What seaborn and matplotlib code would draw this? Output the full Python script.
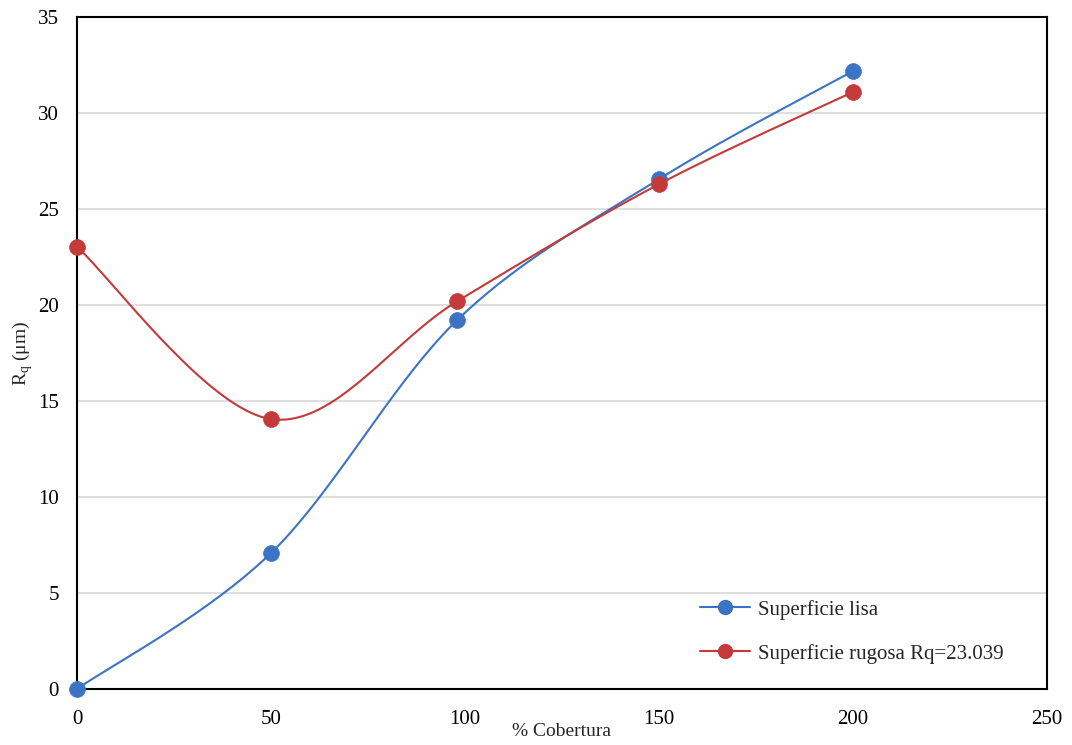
import numpy as np
import pandas as pd
import matplotlib
matplotlib.use("Agg")
import matplotlib.pyplot as plt
import seaborn as sns

cobertura_lisa = [0, 50, 98, 150, 200]
rq_lisa = [0.0, 7.08, 19.22, 26.56, 32.19]
cobertura_rugosa = [0, 50, 98, 150, 200]
rq_rugosa = [23.039, 14.06, 20.2, 26.3, 31.1]
labels = ["Superficie lisa", "Superficie rugosa Rq=23.039"]
colors = ["#3b74c2", "#c43a3a"]

sns.set_theme(style="white")
plt.rcParams["font.family"] = ["Liberation Serif", "DejaVu Serif"]

fig = plt.figure(figsize=(10.72, 7.45), dpi=100)
ax = fig.add_axes([0.0718, 0.0752, 0.9049, 0.9018])


def smooth(xs, ys, n=40):
    # Catmull-Rom style smoothing (like spreadsheet "smoothed line") for drawing only
    xs = np.asarray(xs, float)
    ys = np.asarray(ys, float)
    P = np.column_stack([xs, ys])
    P = np.vstack([P[0], P, P[-1]])
    out = []
    for i in range(1, len(P) - 2):
        p0, p1, p2, p3 = P[i - 1], P[i], P[i + 1], P[i + 2]
        c1 = p1 + (p2 - p0) / 6.0
        c2 = p2 - (p3 - p1) / 6.0
        t = np.linspace(0, 1, n)[:, None]
        seg = ((1 - t) ** 3) * p1 + 3 * ((1 - t) ** 2) * t * c1 + 3 * (1 - t) * t ** 2 * c2 + t ** 3 * p2
        out.append(seg if i == 1 else seg[1:])
    s = np.vstack(out)
    return s[:, 0], s[:, 1]


series = [(cobertura_lisa, rq_lisa), (cobertura_rugosa, rq_rugosa)]
handles = []
for (xs, ys), lab, col in zip(series, labels, colors):
    sx, sy = smooth(xs, ys)
    ax.plot(sx, sy, color=col, lw=1.5, zorder=2)
    df = pd.DataFrame({"x": xs, "y": ys})
    sns.scatterplot(data=df, x="x", y="y", ax=ax, color=col, s=130,
                    edgecolor=col, linewidth=0.5, zorder=3, clip_on=False)
    h, = ax.plot([], [], color=col, lw=1.5, marker="o", markersize=10, label=lab)
    handles.append(h)

ax.set_xlim(0, 250)
ax.set_ylim(0, 35)
ax.set_xticks(np.arange(0, 251, 50))
ax.set_yticks(np.arange(0, 36, 5))
ax.yaxis.grid(True, color="#d9d9d9", lw=1.2)
ax.xaxis.grid(False)
ax.set_axisbelow(True)
for sp in ax.spines.values():
    sp.set_color("black")
    sp.set_linewidth(1.5)
ax.tick_params(axis="x", direction="in", length=5, width=1, colors="black",
               labelsize=15, pad=15)
ax.tick_params(axis="y", length=0, labelsize=15, pad=13, colors="black")
ax.set_xlabel("% Cobertura", fontsize=14, labelpad=-4)
ax.set_ylabel("R$_\\mathregular{q}$ (μm)", fontsize=14, labelpad=2)

leg = ax.legend(handles=handles, loc="lower right", bbox_to_anchor=(0.975, 0.01),
                frameon=False, fontsize=15, handlelength=2.4, labelspacing=1.15,
                handletextpad=0.4)

fig.savefig("out.png", dpi=100)
